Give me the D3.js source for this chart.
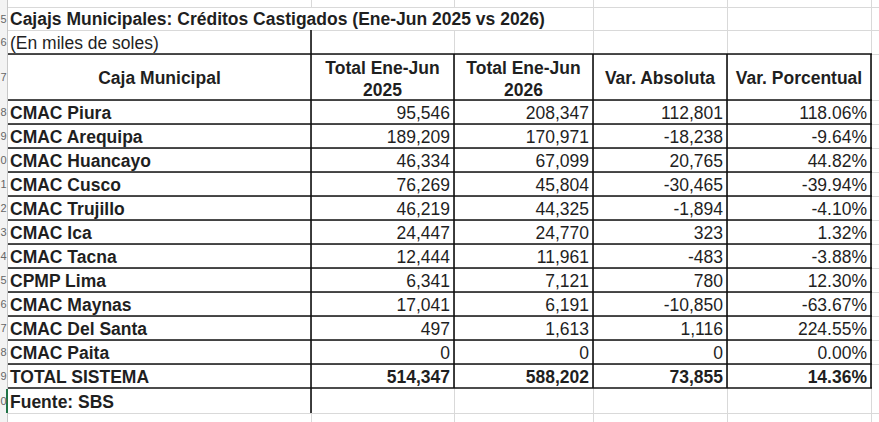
<!DOCTYPE html>
<html>
<head>
<meta charset="utf-8">
<script src="https://cdn.jsdelivr.net/npm/d3@7"></script>
<style>
  body { margin: 0; background: #fff; }
  text { font-family: "Liberation Sans", Arial, sans-serif; fill: #1f1f1f; }
</style>
</head>
<body>
<div id="sheet"></div>
<script>
// table content
const title = "Cajajs Municipales: Créditos Castigados (Ene-Jun 2025 vs 2026)";
const subtitle = "(En miles de soles)";
const source = "Fuente: SBS";
const headers = [["Caja Municipal"], ["Total Ene-Jun", "2025"], ["Total Ene-Jun", "2026"], ["Var. Absoluta"], ["Var. Porcentual"]];
const cajas = ["CMAC Piura", "CMAC Arequipa", "CMAC Huancayo", "CMAC Cusco", "CMAC Trujillo", "CMAC Ica",
  "CMAC Tacna", "CPMP Lima", "CMAC Maynas", "CMAC Del Santa", "CMAC Paita", "TOTAL SISTEMA"];
const total2025 = [95546, 189209, 46334, 76269, 46219, 24447, 12444, 6341, 17041, 497, 0, 514347];
const total2026 = [208347, 170971, 67099, 45804, 44325, 24770, 11961, 7121, 6191, 1613, 0, 588202];
const varAbs = [112801, -18238, 20765, -30465, -1894, 323, -483, 780, -10850, 1116, 0, 73855];
const varPct = [118.06, -9.64, 44.82, -39.94, -4.10, 1.32, -3.88, 12.30, -63.67, 224.55, 0.00, 14.36];
// visible last digit of the sheet row numbers (rows 4..20)
const rowNumbers = ["4", "5", "6", "7", "8", "9", "0", "1", "2", "3", "4", "5", "6", "7", "8", "9", "0"];

const W = 879, H = 422;
const fs = 17.5;

const svg = d3.select("#sheet").append("svg")
  .attr("width", W).attr("height", H);

// column edges (left of each column + right edge of table)
const colKeys = ["name", "y2025", "y2026", "abs", "pct"];
const colLeft = d3.scaleOrdinal().domain(colKeys).range([8, 311, 454, 593, 727]);
const tableRight = 871;
const colRight = k => { const i = colKeys.indexOf(k); return i < colKeys.length - 1 ? colLeft(colKeys[i + 1]) : tableRight; };

// body rows
const rowY = d3.scaleBand().domain(d3.range(cajas.length)).range([100, 100 + 24 * cajas.length]);

const loc = d3.formatLocale({decimal: ".", thousands: ",", grouping: [3], currency: ["", ""], minus: "-"});
const fmt = loc.format(",");
const fmtPct = d => loc.format(".2f")(d) + "%";

// grid
const grid = svg.append("g").attr("stroke", "#d9d9d9").attr("stroke-width", 1);
[7, 30, 54, 413, 437].concat(rowY.domain().map(i => rowY(i))).forEach(y => {
  grid.append("line").attr("x1", 7).attr("x2", W).attr("y1", y + 0.5).attr("y2", y + 0.5);
});
[311, 454, 593, 727, 871].forEach(x => {
  // title row hides the gridlines it overflows
  const top = x < 560 ? 30 : 0;
  grid.append("line").attr("x1", x + 0.5).attr("x2", x + 0.5).attr("y1", 0).attr("y2", 7);
  grid.append("line").attr("x1", x + 0.5).attr("x2", x + 0.5).attr("y1", top).attr("y2", H);
});

// row number strip
svg.append("rect").attr("x", 0).attr("y", 0).attr("width", 7).attr("height", H).attr("fill", "#f3f3f3");
svg.append("line").attr("x1", 7.5).attr("x2", 7.5).attr("y1", 0).attr("y2", H).attr("stroke", "#c8c8c8");
svg.append("line").attr("x1", 7).attr("x2", 7).attr("y1", 389).attr("y2", 413).attr("stroke", "#217346").attr("stroke-width", 2);
const rowTops = [7, 30, 54].concat(d3.range(13).map(i => 100 + 24 * i), [413]);
const rowHts = d3.pairs(rowTops.concat([437])).map(p => p[1] - p[0]);
svg.append("g")
  .selectAll("text").data(rowTops.slice(0, rowNumbers.length - 1)).join("text")
  .attr("x", 6.5).attr("y", (d, i) => d + rowHts[i] / 2 + 4)
  .attr("text-anchor", "end").style("font-size", "11px").style("fill", "#666")
  .text((d, i) => rowNumbers[i + 1]);

// title & subtitle
svg.append("text").attr("x", 10).attr("y", 25).style("font-size", fs + "px").style("font-weight", "bold").text(title);
svg.append("text").attr("x", 10).attr("y", 48.5).style("font-size", fs + "px").text(subtitle);

// header
const head = svg.append("g").style("font-size", fs + "px").style("font-weight", "bold").attr("text-anchor", "middle");
colKeys.forEach((k, i) => {
  const cx = (colLeft(k) + colRight(k)) / 2;
  const lines = headers[i];
  lines.forEach((t, j) => {
    const y = lines.length === 1 ? 83.5 : 73.5 + 22 * j;
    head.append("text").attr("x", cx).attr("y", y).text(t);
  });
});

// body cells
const rows = svg.append("g").selectAll("g").data(cajas).join("g")
  .attr("transform", (d, i) => `translate(0,${rowY(i)})`)
  .style("font-size", fs + "px")
  .style("font-weight", (d, i) => i === cajas.length - 1 ? "bold" : "normal");

rows.append("text").attr("x", colLeft("name") + 2).attr("y", 19).style("font-weight", "bold").text(d => d);
const numCols = [["y2025", total2025, fmt], ["y2026", total2026, fmt], ["abs", varAbs, fmt], ["pct", varPct, fmtPct]];
numCols.forEach(([k, arr, f]) => {
  rows.append("text").attr("x", colRight(k) - 4).attr("y", 19).attr("text-anchor", "end")
    .text((d, i) => f(arr[i]));
});

// source row
svg.append("text").attr("x", 10).attr("y", 408).style("font-size", fs + "px").style("font-weight", "bold").text(source);

// borders
const bd = svg.append("g").attr("stroke", "#111").attr("stroke-width", 1.6);
const bottom = rowY(cajas.length - 1) + 24;
[54].concat(rowY.domain().map(i => rowY(i)), [bottom]).forEach(y => {
  bd.append("line").attr("x1", 8).attr("x2", tableRight + 1).attr("y1", y).attr("y2", y);
});
bd.append("line").attr("x1", 311).attr("x2", 311).attr("y1", 30).attr("y2", 413);
colKeys.slice(2).map(k => colLeft(k)).concat([tableRight]).forEach(x => {
  bd.append("line").attr("x1", x).attr("x2", x).attr("y1", 54).attr("y2", bottom);
});
</script>
</body>
</html>
